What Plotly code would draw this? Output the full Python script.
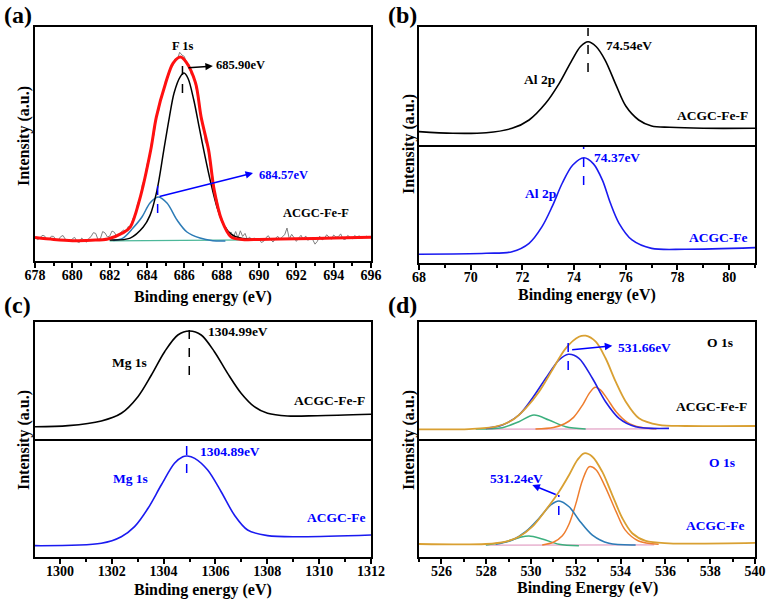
import plotly.graph_objects as go

W, H = 768, 602
FONT = "Liberation Serif"

# ---------------- Panel (a): F 1s ----------------
a_raw_x = [678 + 0.125 * i for i in range(145)]
a_raw_y = [10.2, 9.1, 9.6, 10.9, 10.8, 9.4, 9.2, 10.6, 10.5, 8.9, 9.0, 10.4, 10.9, 9.3, 8.8, 8.2, 9.5, 10.1, 8.3, 7.9,
           9.8, 9.0, 8.0, 9.6, 10.4, 12.1, 11.8, 9.2, 9.5, 12.6, 12.0, 10.3, 10.6, 12.8, 12.3, 10.4, 11.0, 12.5, 13.2, 12.6,
           14.8, 14.2, 18.3, 19.4, 24.8, 26.0, 32.6, 35.2, 41.3, 44.1, 51.2, 54.0, 62.0, 64.2, 70.1, 72.8, 77.2, 78.3, 82.6, 83.4,
           86.4, 86.1, 89.2, 88.0, 87.4, 84.3, 84.0, 79.6, 79.0, 74.1, 71.0, 62.0, 58.2, 51.0, 49.1, 41.0, 37.2, 29.0, 26.1, 20.2,
           18.3, 14.6, 14.2, 11.5, 12.4, 10.2, 12.6, 9.8, 12.9, 10.5, 11.8, 9.3, 10.2, 8.6, 9.9, 8.9, 9.6, 7.9, 8.4, 10.0,
           10.8, 9.2, 8.1, 9.6, 10.6, 9.0, 10.4, 11.2, 14.1, 9.4, 11.4, 10.0, 8.4, 9.8, 11.0, 9.1, 10.7, 8.8, 9.9, 9.2,
           7.2, 8.4, 10.6, 9.0, 9.6, 11.2, 10.0, 9.3, 11.1, 10.2, 10.4, 11.6, 9.4, 9.2, 10.9, 10.0, 9.5, 10.9, 10.1, 10.8,
           9.7, 10.2, 10.6, 10.1, 10.0]
a_env_x = [678.0, 679.0, 680.0, 681.0, 681.9, 682.7, 683.1, 683.6, 684.2, 684.5, 685.0, 685.4, 685.8, 686.1, 686.6,
           686.9, 687.3, 687.6, 688.0, 688.5, 689.1, 690.0, 692.0, 694.0, 696.0]
a_env_y = [10.0, 9.2, 8.7, 8.9, 9.4, 12.0, 14.5, 26.1, 47.4, 61.5, 76.1, 84.6, 87.2, 85.0, 76.1,
           61.5, 47.4, 30.3, 17.5, 10.3, 9.2, 9.2, 9.5, 9.8, 10.2]
a_p1_x = [682.0, 683.1, 683.8, 684.16, 684.53, 684.9, 685.2, 685.45, 685.77, 685.98, 686.2, 686.5, 686.8, 687.1,
          687.4, 687.75, 688.1, 688.5, 689.0, 689.8]
a_p1_y = [9.0, 9.8, 14.5, 19.5, 30.0, 47.4, 61.5, 71.8, 78.6, 80.3, 78.0, 69.0, 57.0, 45.0,
          34.0, 23.0, 15.5, 11.5, 9.8, 9.2]
a_p2_x = [682.2, 682.71, 683.25, 683.73, 684.16, 684.59, 685.07, 685.61, 686.14, 686.84, 687.53, 688.2]
a_p2_y = [8.8, 9.8, 14.1, 18.8, 24.8, 27.4, 24.8, 17.5, 12.4, 9.8, 8.7, 8.6]
a_bg_x = [682.0, 690.0]
a_bg_y = [8.6, 9.0]
a_ticks = [678, 680, 682, 684, 686, 688, 690, 692, 694, 696]

# ---------------- Panel (b): Al 2p ----------------
b_top_x = [68.0, 69.3, 70.6, 71.6, 72.26, 72.9, 73.42, 73.92, 74.25, 74.54, 74.85, 75.2, 75.62, 76.0, 76.5,
           77.0, 77.7, 79.0, 81.0]
b_top_y = [11.3, 9.9, 10.4, 14.1, 21.2, 35.3, 52.0, 72.0, 83.5, 87.5, 83.5, 72.0, 51.0, 33.0, 21.2,
           16.1, 15.0, 14.2, 14.2]
b_bot_x = [68.0, 70.6, 71.6, 72.26, 72.76, 73.15, 73.55, 73.95, 74.38, 74.75, 75.1, 75.4, 75.74, 76.24,
           77.0, 78.3, 81.0]
b_bot_y = [7.4, 8.2, 9.6, 16.7, 30.8, 47.7, 68.0, 83.0, 89.2, 84.0, 70.0, 51.0, 33.6, 19.5,
           12.4, 11.6, 13.0]
b_ticks = [68, 70, 72, 74, 76, 78, 80]

# ---------------- Panel (c): Mg 1s ----------------
c_top_x = [1299.04, 1300.32, 1301.6, 1302.37, 1303.01, 1303.53, 1304.04, 1304.55, 1305.0, 1305.45, 1305.96,
           1306.47, 1306.99, 1307.5, 1308.01, 1308.78, 1309.93, 1312.0]
c_top_y = [10.5, 11.4, 15.4, 22.0, 36.2, 54.7, 74.6, 88.9, 92.3, 88.9, 74.6,
           56.1, 39.1, 27.6, 22.0, 19.7, 19.9, 21.1]
c_bot_x = [1299.04, 1301.6, 1302.37, 1302.88, 1303.4, 1303.91, 1304.42, 1304.74, 1304.92, 1305.2, 1305.7,
           1306.22, 1306.73, 1307.24, 1308.01, 1309.3, 1312.0]
c_bot_y = [9.6, 11.6, 17.2, 25.7, 41.3, 61.0, 79.4, 85.0, 85.6, 83.6, 73.7,
           55.3, 35.6, 22.9, 18.1, 17.2, 18.6]
c_ticks = [1300, 1302, 1304, 1306, 1308, 1310, 1312]

# ---------------- Panel (d): O 1s ----------------
d_top_env_x = [525.0, 527.23, 528.42, 529.17, 529.76, 530.36, 530.95, 531.55, 532.14, 532.44, 532.89, 533.33,
               533.78, 534.23, 534.82, 535.71, 536.9, 540.0]
d_top_env_y = [8.3, 8.5, 10.5, 16.2, 26.2, 40.4, 59.0, 77.5, 87.4, 88.3, 83.2, 69.0,
               49.0, 31.9, 17.7, 12.0, 11.1, 11.1]
d_top_p1_x = [527.98, 528.72, 529.46, 530.06, 530.66, 531.25, 531.67, 532.14, 532.74, 533.33, 533.93, 534.67, 536.16]
d_top_p1_y = [9.1, 12.0, 20.5, 34.8, 51.9, 67.5, 72.4, 69.0, 51.9, 31.9, 17.7, 10.5, 9.1]
d_top_p2_x = [530.2, 531.0, 531.5, 531.9, 532.3, 532.6, 532.86, 533.1, 533.4, 533.8, 534.3, 534.9, 535.6]
d_top_p2_y = [8.5, 9.8, 13.0, 18.5, 29.0, 39.0, 44.2, 42.0, 34.5, 23.3, 14.3, 10.0, 8.6]
d_top_p3_x = [527.53, 528.72, 529.46, 530.13, 530.8, 531.55, 532.44]
d_top_p3_y = [8.5, 9.7, 14.8, 20.5, 16.2, 10.5, 8.5]

d_bot_env_x = [525.0, 527.98, 528.87, 529.46, 530.06, 530.66, 531.25, 531.7, 532.07, 532.37, 532.74, 533.18,
               533.63, 534.08, 534.52, 535.12, 536.16, 540.0]
d_bot_env_y = [11.0, 11.0, 13.0, 17.2, 25.7, 39.8, 55.3, 69.5, 82.2, 87.9, 85.0, 72.3,
               52.5, 32.8, 20.1, 13.6, 11.6, 11.9]
d_bot_p1_x = [528.42, 529.17, 529.76, 530.36, 530.88, 531.25, 531.7, 532.14, 532.74, 533.48, 534.67]
d_bot_p1_y = [10.8, 14.4, 21.4, 32.8, 44.1, 47.5, 42.6, 31.4, 18.6, 11.6, 10.2]
d_bot_p2_x = [530.5, 531.0, 531.4, 531.7, 532.0, 532.3, 532.6, 532.9, 533.3, 533.8, 534.2, 534.8, 535.7]
d_bot_p2_y = [10.2, 12.5, 18.0, 28.0, 45.0, 65.0, 76.5, 74.0, 60.0, 38.4, 23.0, 13.6, 10.8]
d_bot_p3_x = [527.98, 528.87, 529.46, 529.91, 530.5, 531.25, 532.14]
d_bot_p3_y = [10.2, 13.0, 16.4, 17.8, 15.3, 10.8, 9.6]
d_bg_x = [528.0, 535.5]
d_top_bg_y = [8.4, 8.6]
d_bot_bg_y = [10.0, 10.2]
d_ticks = [526, 528, 530, 532, 534, 536, 538, 540]

BLUE = "#0000FF"
CBLUE = "#1A1AF0"
STEEL = "#2C7BB6"
ORANGE = "#EE7D2E"
GREEN = "#3DB07E"
GOLD = "#D9A032"

fig = go.Figure()


def add(x, y, ax, color, width=1.5, shape="spline", smooth=0.9):
    line = dict(color=color, width=width, shape=shape)
    if shape == "spline":
        line["smoothing"] = smooth
    fig.add_trace(go.Scatter(x=x, y=y, mode="lines", xaxis="x" + ax, yaxis="y" + ax, line=line,
                             showlegend=False, hoverinfo="skip"))


# panel a -> axis ''; b -> 2(top), 3(bottom); c -> 4,5 ; d -> 6,7
add(a_raw_x, a_raw_y, "", "#808080", 1.0, shape="linear")
add(a_bg_x, a_bg_y, "", "#4DB89A", 1.2)
add(a_p2_x, a_p2_y, "", STEEL, 1.5)
add(a_p1_x, a_p1_y, "", "black", 1.5)
add(a_env_x, a_env_y, "", "#FF1010", 3.0)

add(b_top_x, b_top_y, "2", "black", 1.6)
add(b_bot_x, b_bot_y, "3", CBLUE, 1.6)
add(c_top_x, c_top_y, "4", "black", 1.6)
add(c_bot_x, c_bot_y, "5", CBLUE, 1.6)

add(d_bg_x, d_top_bg_y, "6", "#E3A3C6", 1.2)
add(d_top_p3_x, d_top_p3_y, "6", GREEN, 1.5)
add(d_top_p2_x, d_top_p2_y, "6", ORANGE, 1.5)
add(d_top_p1_x, d_top_p1_y, "6", "#1F1FE6", 1.6)
add(d_top_env_x, d_top_env_y, "6", GOLD, 1.8)
add(d_bg_x, d_bot_bg_y, "7", "#E3A3C6", 1.2)
add(d_bot_p3_x, d_bot_p3_y, "7", GREEN, 1.5)
add(d_bot_p2_x, d_bot_p2_y, "7", ORANGE, 1.5)
add(d_bot_p1_x, d_bot_p1_y, "7", STEEL, 1.6)
add(d_bot_env_x, d_bot_env_y, "7", GOLD, 1.8)

# ---------------- axes ----------------
LEFT = [35 / W, 371 / W]
RIGHT = [419 / W, 755 / W]


def ydom(top_px, bot_px):
    return [1 - bot_px / H, 1 - top_px / H]


tickfont = dict(family=FONT, size=14, color="black")


def xax(dom, rng, anchor, ticks, top):
    d = dict(domain=dom, range=rng, anchor=anchor, showline=True, linecolor="black", automargin=False,
             linewidth=2, showgrid=False, zeroline=False, fixedrange=True)
    if top:
        d.update(ticks="", showticklabels=False, mirror=True)
    else:
        d.update(mirror=(anchor == "y"), ticks="outside", ticklen=5, tickwidth=1.5, tickcolor="black",
                 tickmode="array", tickvals=ticks, ticktext=["<b>%d</b>" % t for t in ticks],
                 showticklabels=True, tickfont=tickfont, ticklabelstandoff=-5,
                 minor=dict(ticks="outside", ticklen=3, tickwidth=1.5, tickcolor="black", dtick=1,
                            tick0=ticks[0]))
    return d


def yax(dom, anchor):
    return dict(domain=dom, range=[0, 100], anchor=anchor, showline=True, mirror=True, linecolor="black",
                linewidth=2, showgrid=False, zeroline=False, ticks="", showticklabels=False, fixedrange=True,
                automargin=False)


layout = dict(
    width=W, height=H, margin=dict(l=0, r=0, t=0, b=0, autoexpand=False), paper_bgcolor="white",
    plot_bgcolor="white",
    xaxis=xax(LEFT, [678, 696], "y", a_ticks, False), yaxis=yax(ydom(27, 261), "x"),
    xaxis2=xax(RIGHT, [68, 81], "y2", b_ticks, True), yaxis2=yax(ydom(27, 145), "x2"),
    xaxis3=xax(RIGHT, [68, 81], "y3", b_ticks, False), yaxis3=yax(ydom(145, 263), "x3"),
    xaxis4=xax(LEFT, [1299.04, 1312], "y4", c_ticks, True), yaxis4=yax(ydom(322, 439), "x4"),
    xaxis5=xax(LEFT, [1299.04, 1312], "y5", c_ticks, False), yaxis5=yax(ydom(439, 557), "x5"),
    xaxis6=xax(RIGHT, [525, 540], "y6", d_ticks, True), yaxis6=yax(ydom(322, 439), "x6"),
    xaxis7=xax(RIGHT, [525, 540], "y7", d_ticks, False), yaxis7=yax(ydom(439, 557), "x7"),
)
fig.update_layout(**layout)

shapes = []
annots = []


def dash(ax, x, y0, y1, color):
    shapes.append(dict(type="line", xref="x" + ax, yref="y" + ax, x0=x, x1=x, y0=y0, y1=y1,
                       line=dict(color=color, width=1.5, dash="dash")))


def text(ax, x, y, s, color="black", size=13.5, xanchor="center"):
    annots.append(dict(xref="x" + ax, yref="y" + ax, x=x, y=y, text="<b>" + s + "</b>", showarrow=False,
                       xanchor=xanchor, yanchor="middle", font=dict(family=FONT, size=size, color=color)))


def arrow(ax, hx, hy, tx, ty, color):
    annots.append(dict(xref="x" + ax, yref="y" + ax, axref="x" + ax, ayref="y" + ax, x=hx, y=hy, ax=tx, ay=ty,
                       text="", showarrow=True, arrowhead=2, arrowsize=1, arrowwidth=1.5, arrowcolor=color,
                       standoff=0, startstandoff=0))


def ptext(px, py, s, size, angle=0):
    annots.append(dict(xref="paper", yref="paper", x=px / W, y=1 - py / H, text="<b>" + s + "</b>",
                       showarrow=False, xanchor="center", yanchor="middle", textangle=angle,
                       font=dict(family=FONT, size=size, color="black")))


# panel a
text("", 685.93, 91.9, "F 1s", size=12.5)
dash("", 685.9, 71.8, 83.8, "black")
arrow("", 687.53, 83.3, 686.14, 82.5, "black")
text("", 687.6, 83.6, "685.90eV", size=12.5, xanchor="left")
dash("", 684.57, 20.5, 35.9, BLUE)
arrow("", 689.68, 37.6, 684.59, 27.4, BLUE)
text("", 689.9, 36.8, "684.57eV", color=BLUE, size=12.5, xanchor="left")
text("", 693.05, 20.5, "ACGC-Fe-F", size=12.5)

# panel b
dash("2", 74.54, 61.9, 99.2, "black")
text("2", 75.16, 84.7, "74.54eV", xanchor="left")
text("2", 72.66, 55.1, "Al 2p")
text("2", 80.8, 25.4, "ACGC-Fe-F", xanchor="right")
dash("3", 74.37, 66.1, 98.3, BLUE)
text("3", 74.69, 89.0, "74.37eV", color=BLUE, xanchor="left")
text("3", 72.72, 59.3, "Al 2p", color=BLUE)
text("3", 80.75, 22.0, "ACGC-Fe", color=BLUE, xanchor="right")

# panel c
dash("4", 1304.99, 54.7, 100, "black")
text("4", 1305.65, 91.5, "1304.99eV", xanchor="left")
text("4", 1302.69, 65.8, "Mg 1s")
text("4", 1311.85, 33.3, "ACGC-Fe-F", xanchor="right")
dash("5", 1304.89, 71.2, 99.2, BLUE)
text("5", 1305.31, 89.0, "1304.89eV", color=BLUE, xanchor="left")
text("5", 1302.73, 66.9, "Mg 1s", color=BLUE)
text("5", 1311.85, 33.9, "ACGC-Fe", color=BLUE, xanchor="right")

# panel d
dash("6", 531.66, 59.0, 82.1, BLUE)
arrow("6", 533.63, 79.7, 531.77, 76.1, BLUE)
text("6", 533.79, 78.6, "531.66eV", color=BLUE, xanchor="left")
text("6", 538.44, 82.1, "O 1s")
text("6", 539.73, 27.4, "ACGC-Fe-F", xanchor="right")
dash("7", 531.24, 35.6, 52.5, BLUE)
arrow("7", 530.06, 61.0, 531.17, 52.5, BLUE)
text("7", 529.35, 66.9, "531.24eV", color=BLUE)
text("7", 538.53, 80.5, "O 1s", color=BLUE)
text("7", 539.6, 26.3, "ACGC-Fe", color=BLUE, xanchor="right")

# panel labels, axis titles
ptext(18, 15, "(a)", 24)
ptext(402, 15, "(b)", 24)
ptext(17, 305, "(c)", 24)
ptext(402, 305, "(d)", 24)
ptext(203, 297, "Binding energy (eV)", 16)
ptext(587, 295, "Binding energy (eV)", 16)
ptext(203, 590, "Binding energy (eV)", 16)
ptext(587, 588, "Binding Energy (eV)", 16)
ptext(24, 136, "Intensity (a.u.)", 16, -90)
ptext(409, 144, "Intensity (a.u.)", 16, -90)
ptext(24, 440, "Intensity (a.u.)", 16, -90)
ptext(409, 440, "Intensity (a.u.)", 16, -90)

fig.update_layout(shapes=shapes, annotations=annots)
fig.write_html("out.html", config={"displayModeBar": False},
               post_script="document.body.style.margin='0';document.body.style.overflow='hidden';")
